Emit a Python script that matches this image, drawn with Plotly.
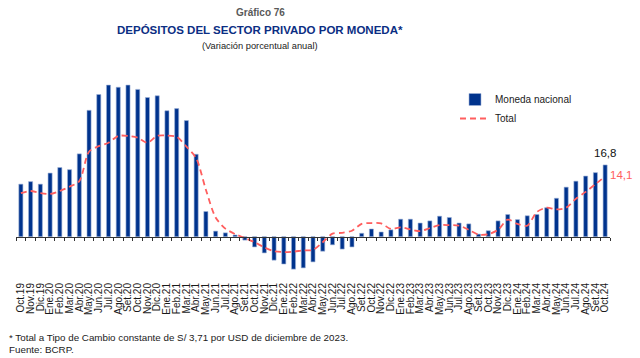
import plotly.graph_objects as go

categories = ["Oct.19","Nov.19","Dic.19","Ene.20","Feb.20","Mar.20","Abr.20","May.20","Jun.20","Jul.20",
              "Ago.20","Set.20","Oct.20","Nov.20","Dic.20","Ene.21","Feb.21","Mar.21","Abr.21","May.21",
              "Jun.21","Jul.21","Ago.21","Set.21","Oct.21","Nov.21","Dic.21","Ene.22","Feb.22","Mar.22",
              "Abr.22","May.22","Jun.22","Jul.22","Ago.22","Set.22","Oct.22","Nov.22","Dic.22","Ene.23",
              "Feb.23","Mar.23","Abr.23","May.23","Jun.23","Jul.23","Ago.23","Set.23","Oct.23","Nov.23",
              "Dic.23","Ene.24","Feb.24","Mar.24","Abr.24","May.24","Jun.24","Jul.24","Ago.24","Set.24","Oct.24"]

moneda_nacional = [12.3, 12.9, 12.3, 14.9, 16.2, 15.7, 19.4, 29.6, 33.3, 35.5,
                   35.0, 35.5, 34.5, 32.6, 33.0, 29.5, 30.0, 27.2, 19.3, 5.9,
                   1.3, 0.9, 0.4, -0.8, -2.4, -3.8, -5.5, -6.4, -7.6, -7.3,
                   -5.9, -3.4, -1.9, -2.9, -2.4, 0.8, 1.8, 1.1, 1.6, 4.1,
                   4.1, 3.2, 3.7, 4.8, 4.5, 3.2, 3.0, 0.6, 1.4, 3.7,
                   5.2, 4.0, 4.9, 5.2, 6.8, 9.0, 11.6, 13.0, 14.2, 15.0, 16.8]

total = [10.2, 10.7, 10.2, 10.0, 10.7, 11.7, 13.0, 19.9, 21.2, 22.0,
         23.6, 23.6, 23.2, 22.0, 23.6, 23.7, 23.4, 21.1, 18.4, 11.0,
         4.5, 1.9, 0.6, -0.3, -1.3, -2.5, -3.4, -3.6, -3.5, -3.2,
         -3.1, -1.3, 0.7, 0.9, 1.4, 3.0, 3.2, 3.1, 1.8, 2.2,
         1.7, 1.3, 2.0, 2.7, 2.7, 2.6, 1.6, 0.5, 0.6, 1.6,
         4.0, 3.0, 2.6, 5.8, 6.8, 6.4, 6.8, 8.9, 10.5, 12.3, 14.1]

label_mn = "16,8"
label_total = "14,1"

W, H = 640, 358
L, R, T, B = 16, 30, 70, 86
Y_MIN, Y_MAX = -8.27, 39.04
NAVY = "#00338D"
RED = "#FF5E5E"
FONT = "Liberation Sans"

plot_w = W - L - R
plot_h = H - T - B

def px_x(px):
    return (px - L) / plot_w

def px_y(py):
    return (H - B - py) / plot_h

fig = go.Figure()
fig.add_trace(go.Bar(
    x=categories, y=moneda_nacional, name="Moneda nacional",
    marker=dict(color=NAVY, line=dict(color="#9FB3D9", width=0.6)),
    width=0.42, xaxis="x", yaxis="y",
))
fig.add_trace(go.Scatter(
    x=categories, y=total, name="Total", mode="lines",
    line=dict(color=RED, width=1.8, dash="6px,4px", shape="spline", smoothing=0.8),
    xaxis="x2", yaxis="y",
))

zero_pos = (0 - Y_MIN) / (Y_MAX - Y_MIN)

fig.update_layout(
    width=W, height=H,
    margin=dict(l=L, r=R, t=T, b=B, autoexpand=False),
    paper_bgcolor="white", plot_bgcolor="white",
    font=dict(family=FONT, size=10, color="#222222"),
    xaxis=dict(
        type="category", categoryorder="array", categoryarray=categories,
        range=[-0.5, len(categories) - 0.5], automargin=False,
        tickmode="linear", tick0=0, dtick=1,
        tickangle=-90, tickfont=dict(family=FONT, size=10, color="#1a1a1a"),
        ticklabelstandoff=8,
        showgrid=False, zeroline=False, showline=False, ticks="",
    ),
    xaxis2=dict(
        type="category", categoryorder="array", categoryarray=categories,
        range=[-0.5, len(categories) - 0.5], automargin=False,
        overlaying="x", anchor="free", position=zero_pos,
        showticklabels=False, showgrid=False, zeroline=False,
        showline=True, linecolor="#333333", linewidth=1,
        ticks="outside", ticklen=3, tickcolor="#333333", tickwidth=1,
        tickson="boundaries", tickmode="linear", tick0=0, dtick=1,
    ),
    yaxis=dict(
        range=[Y_MIN, Y_MAX], showgrid=False, zeroline=False, automargin=False,
        showticklabels=False, showline=False, ticks="",
    ),
    showlegend=True,
    legend=dict(
        x=px_x(455), y=px_y(85), xanchor="left", yanchor="top",
        bgcolor="rgba(0,0,0,0)", font=dict(family=FONT, size=10, color="#1a1a1a"),
        tracegroupgap=0, itemwidth=30,
    ),
)

title_x = px_x(260)
fig.add_annotation(xref="paper", yref="paper", x=title_x, y=px_y(13), yanchor="middle",
                   text="<b>Gráfico 76</b>",
                   showarrow=False, font=dict(family=FONT, size=10, color="#595959"))
fig.add_annotation(xref="paper", yref="paper", x=title_x, y=px_y(30), yanchor="middle",
                   text="<b>DEPÓSITOS DEL SECTOR PRIVADO POR MONEDA*</b>",
                   showarrow=False, font=dict(family=FONT, size=11.5, color="#0B2E83"))
fig.add_annotation(xref="paper", yref="paper", x=title_x, y=px_y(46), yanchor="middle",
                   text="(Variación porcentual anual)",
                   showarrow=False, font=dict(family=FONT, size=9.3, color="#1a1a1a"))

fig.add_annotation(xref="paper", yref="paper", x=px_x(7), y=px_y(337), xanchor="left", yanchor="middle",
                   text="* Total a Tipo de Cambio constante de S/ 3,71 por USD de diciembre de 2023.",
                   showarrow=False, font=dict(family=FONT, size=9.8, color="#1a1a1a"))
fig.add_annotation(xref="paper", yref="paper", x=px_x(7), y=px_y(349), xanchor="left", yanchor="middle",
                   text="Fuente: BCRP.",
                   showarrow=False, font=dict(family=FONT, size=9.8, color="#1a1a1a"))

fig.add_annotation(x=categories[-1], y=moneda_nacional[-1], xref="x", yref="y",
                   text=label_mn, showarrow=False, yanchor="bottom", yshift=4,
                   font=dict(family=FONT, size=11.5, color="#111111"))
fig.add_annotation(x=categories[-1], y=total[-1], xref="x", yref="y",
                   text=label_total, showarrow=False, xanchor="left", xshift=3, yshift=1,
                   font=dict(family=FONT, size=11.5, color=RED))

fig.write_html("out.html", config={"displayModeBar": False},
               post_script="document.body.style.margin='0';")
